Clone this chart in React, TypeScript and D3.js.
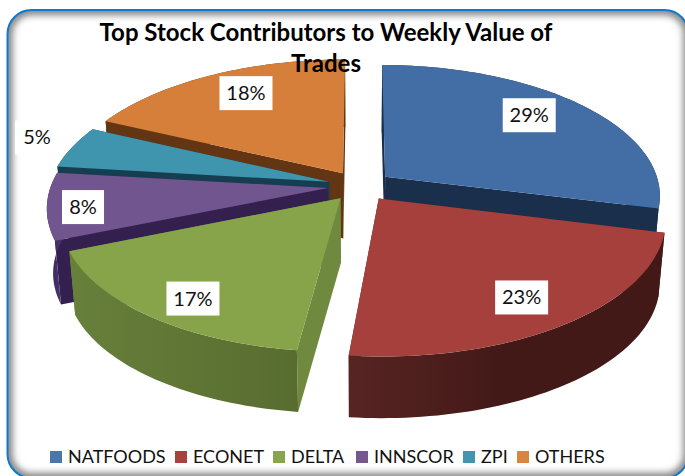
import React from "react";
import * as d3 from "d3";

const categories = ["NATFOODS", "ECONET", "DELTA", "INNSCOR", "ZPI", "OTHERS"];
const values = [28.9, 22.7, 17.2, 8.1, 5.1, 18];
const topColors = ["#436ea5", "#a5403d", "#87a44a", "#71558f", "#3f95ae", "#d67f3a"];
const wallColors = ["#1a2f4c", "#572422", "#67803a", "#33204f", "#153f50", "#643513"];
const wallDark = ["#1a2f4c", "#421917", "#586c30", "#4d3a78", "#153f50", "#643513"];
const legendColors = ["#4a76ac", "#a9423f", "#89a54c", "#75588f", "#4195ae", "#da843e"];
const title = ["Top Stock Contributors to Weekly Value of", "Trades"];

// layout, not data
const paintOrder = [5, 0, 4, 3, 2, 1];
const sliceScale = [0.98, 1, 0.975, 0.99, 1, 1.01];
const rimStartShift = [0, 0, 1.5, 0, 0, 0];
const labelRadius = [0.88, 0.91, 0.925, 0.98, 1.28, 0.91];
const labelAngleShift = [-4, 0.5, -1.5, -1, 2, 2.6];
const labelBox = [53, 53, 53, 42, 44, 53];
const legendX = [50, 175, 273, 356, 463, 517];

const W = 685, H = 476;
const CX = 360, CY = 186, A = 280, B = 132, K = 0.14;
const EXPLODE = 0.115, DEPTH = 65, FLOOR = 0.98;

type P = [number, number];
const project = (u: number, v: number): P => {
  const s = 1 / (1 + K * v);
  return [CX + A * u * s, CY - B * v * s];
};
const lower = ([x, y]: P): P => [CX + (x - CX) * FLOOR, CY + (y - CY) * FLOOR + DEPTH];
const line = d3.line<P>();

export default function App() {
  const arcs = d3.pie<number>().sort(null).value((d) => d)(values);

  const slices = arcs.map((a, i) => {
    const mid = (a.startAngle + a.endAngle) / 2;
    const ou = Math.sin(mid) * EXPLODE, ov = Math.cos(mid) * EXPLODE;
    const n = Math.max(8, Math.round((a.endAngle - a.startAngle) * 40));
    const start = a.startAngle + (rimStartShift[i] * Math.PI) / 180;
    const rim: P[] = d3.range(n + 1).map((k) => {
      const t = start + ((a.endAngle - start) * k) / n;
      return project(ou + sliceScale[i] * Math.sin(t), ov + sliceScale[i] * Math.cos(t));
    });
    const apex = project(ou, ov);
    const deg = (mid * 180) / Math.PI + labelAngleShift[i];
    const r = labelRadius[i];
    const label = project(r * Math.sin((deg * Math.PI) / 180), r * Math.cos((deg * Math.PI) / 180));
    return { i, rim, apex, label };
  });

  return (
    <svg width={W} height={H} style={{ position: "absolute", left: 0, top: 0, display: "block", background: "#fff" }}>
      <defs>
        <clipPath id="frame"><rect x={7.5} y={10} width={681} height={468} rx={24} /></clipPath>
        <filter id="soft" x="-10%" y="-10%" width="120%" height="120%"><feGaussianBlur stdDeviation={3.6} /></filter>
        {slices.map((s) => (
          <linearGradient key={s.i} id={`wall${s.i}`} gradientUnits="objectBoundingBox" x1="0" x2={s.i === 1 ? 0.5 : 1} y1="0" y2="0">
            <stop offset="0" stopColor={wallColors[s.i]} />
            <stop offset="1" stopColor={wallDark[s.i]} />
          </linearGradient>
        ))}
      </defs>
      <g clipPath="url(#frame)">
        <rect x={7.5} y={10} width={681} height={468} fill="#fff" />
        <rect x={7.5} y={10} width={681} height={468} rx={24} fill="none" stroke="#808080" strokeWidth={10} filter="url(#soft)" />
      </g>
      <rect x={7.5} y={10} width={681} height={468} rx={24} fill="none" stroke="#0f7acb" strokeWidth={2} />

      {paintOrder.map((idx) => {
        const s = slices[idx];
        const first = s.rim[0], last = s.rim[s.rim.length - 1];
        const low = s.rim.map(lower);
        const wallA = [s.apex, first, lower(first), lower(s.apex)] as P[];
        const wallB = [s.apex, last, lower(last), lower(s.apex)] as P[];
        const outer = [...s.rim, ...[...low].reverse()];
        return (
          <g key={idx}>
            <path d={line(wallA)! + "Z"} fill={idx === 2 ? "#6f8a3e" : wallColors[idx]} />
            <path d={line(wallB)! + "Z"} fill={idx === 2 ? "#6f8a3e" : wallColors[idx]} />
            <path d={line(outer)! + "Z"} fill={`url(#wall${idx})`} />
            <path d={line([s.apex, ...s.rim])! + "Z"} fill={topColors[idx]} />
          </g>
        );
      })}

      {slices.map((s) => (
        <g key={s.i}>
          <rect x={s.label[0] - labelBox[s.i] / 2} y={s.label[1] - 16} width={labelBox[s.i]} height={34} fill="#fff" />
          <text x={s.label[0]} y={s.label[1] + 8} textAnchor="middle" fontFamily="Lato" fontSize={20} fill="#111">
            {`${Math.round(values[s.i])}%`}
          </text>
        </g>
      ))}

      {title.map((t, i) => (
        <text key={t} x={326} y={41 + i * 31} textAnchor="middle" fontFamily="Lato" fontWeight={700} fontSize={24} fill="#000">{t}</text>
      ))}

      {categories.map((c, i) => (
        <g key={c}>
          <rect x={legendX[i]} y={451} width={12} height={12} fill={legendColors[i]} />
          <text x={legendX[i] + 18} y={463} fontFamily="Lato" fontSize={18} fill="#111">{c}</text>
        </g>
      ))}
    </svg>
  );
}
